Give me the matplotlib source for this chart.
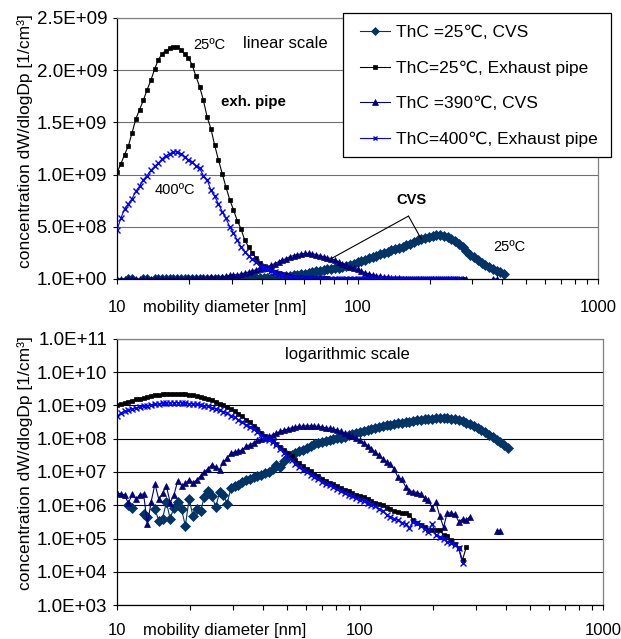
import numpy as np
import matplotlib
matplotlib.use("Agg")
import matplotlib.pyplot as plt
from matplotlib.patches import Rectangle
from matplotlib.ticker import FixedLocator, FuncFormatter, NullFormatter

plt.rcParams['font.family'] = ['Liberation Sans', 'DejaVu Sans']

# SMPS size channels, 64 per decade starting at 10 nm
CH_PER_DECADE = 64
N_CH = 104
dp = 10.0 * 10 ** (np.arange(N_CH) / CH_PER_DECADE)

# log10 of dW/dlogDp [1/cm3] for each channel (None = nothing counted)
lg_cvs_25 = [None, None, None, 6.00, 5.91, None, None, 5.74, 5.66, None,
             5.88, 5.54, 5.60, 6.09, 5.60, 5.93, 6.09, 5.88, 5.38, 6.19,
             5.68, 5.88, 5.82, 6.25, 6.42, 6.29, 5.94, 6.39, 6.32, 6.05,
             6.52, 6.57, 6.62, 6.70, 6.75, 6.79, 6.86, 6.88, 6.92, 6.96,
             6.99, 7.09, 7.20, 7.14, 7.32, 7.45, 7.52, 7.57, 7.62, 7.66,
             7.72, 7.78, 7.83, 7.87, 7.90, 7.93, 7.96, 7.98, 8.01, 8.03,
             8.06, 8.10, 8.13, 8.16, 8.20, 8.23, 8.26, 8.30, 8.33, 8.35,
             8.38, 8.40, 8.42, 8.44, 8.46, 8.47, 8.49, 8.51, 8.53, 8.55,
             8.57, 8.58, 8.59, 8.60, 8.61, 8.62, 8.62, 8.61, 8.60, 8.58,
             8.56, 8.53, 8.48, 8.43, 8.37, 8.32, 8.26, 8.19, 8.12, 8.05,
             7.97, 7.90, 7.81, 7.72]

lg_exh_25 = [9.009, 9.041, 9.076, 9.104, 9.146, 9.185, 9.210, 9.233, 9.258, 9.279,
             9.303, 9.322, 9.334, 9.340, 9.344, 9.346, 9.347, 9.342, 9.334, 9.326,
             9.312, 9.288, 9.265, 9.233, 9.190, 9.158, 9.107, 9.057, 9.004, 8.944,
             8.881, 8.820, 8.748, 8.681, 8.568, 8.491, 8.398, 8.301, 8.176, 8.079,
             8.00, 7.93, 7.85, 7.76, 7.67, 7.57, 7.47, 7.36, 7.26, 7.17,
             7.10, 7.03, 6.95, 6.87, 6.80, 6.74, 6.68, 6.63, 6.58, 6.52,
             6.47, 6.42, 6.37, 6.32, 6.28, 6.24, 6.20, 6.13, 6.08, 6.04,
             6.01, 5.92, 5.89, 5.82, 5.79, 5.78, 5.76, 5.71, 5.56, 5.48,
             5.41, 5.34, 5.27, 5.26, 5.26, 5.25, 5.11, 5.08, 4.95, 4.83,
             4.70, 4.35, 4.75]

lg_cvs_390 = [6.38, 6.34, 6.31, 6.06, 6.34, 6.18, 6.32, 6.34, 5.43, 6.11,
              6.64, 6.18, 6.36, 6.58, 6.08, 6.31, 6.74, 6.59, 6.66, 6.76,
              6.68, 6.76, 6.88, 7.01, 7.10, 7.22, 7.15, 7.07, 7.30, 7.42,
              7.57, 7.60, 7.62, 7.67, 7.77, 7.82, 7.88, 7.95, 7.98, 8.02,
              8.07, 8.12, 8.17, 8.22, 8.26, 8.29, 8.33, 8.35, 8.37, 8.38,
              8.39, 8.39, 8.38, 8.37, 8.35, 8.33, 8.31, 8.29, 8.26, 8.22,
              8.17, 8.12, 8.07, 8.02, 7.96, 7.88, 7.79, 7.70, 7.60, 7.50,
              7.40, 7.31, 7.24, 7.08, 6.84, 6.78, 6.56, 6.44, 6.41, 6.38,
              6.34, 6.21, 6.16, 5.91, 6.09, 5.68, 5.34, 5.78, 5.76, 5.73,
              5.51, 5.58, 5.56, 5.66, None, None, None, None, None, None,
              5.23, 5.23]

lg_exh_400 = [8.672, 8.763, 8.826, 8.857, 8.886, 8.924, 8.949, 8.978, 8.996, 9.017,
              9.033, 9.045, 9.061, 9.072, 9.079, 9.085, 9.086, 9.079, 9.068, 9.057,
              9.049, 9.035, 9.025, 8.996, 8.978, 8.929, 8.898, 8.857, 8.810, 8.763,
              8.699, 8.643, 8.568, 8.491, 8.415, 8.340, 8.280, 8.200, 8.110, 8.030,
              7.97, 7.90, 7.82, 7.70, 7.58, 7.47, 7.37, 7.25, 7.15, 7.07,
              6.99, 6.92, 6.85, 6.78, 6.71, 6.65, 6.60, 6.55, 6.50, 6.44,
              6.38, 6.32, 6.27, 6.22, 6.17, 6.12, 6.08, 6.02, 5.97, 5.90,
              5.84, 5.70, 5.66, 5.60, 5.56, 5.48, 5.45, 5.31, 5.51, 5.46,
              5.38, 5.30, 5.21, 5.44, 5.11, 5.05, 5.00, 4.90, 4.87, 4.80,
              4.70, 4.25]

labels = ["ThC =25\u2103, CVS", "ThC=25\u2103, Exhaust pipe",
          "ThC =390\u2103, CVS", "ThC=400\u2103, Exhaust pipe"]


def to_conc(lg):
    a = np.full(N_CH, np.nan)
    a[:len(lg)] = np.array(lg, dtype=float)
    return 10 ** a


conc = [to_conc(v) for v in (lg_cvs_25, lg_exh_25, lg_cvs_390, lg_exh_400)]
styles = [dict(color='#003366', marker='D', ms=5, mew=0.5),
          dict(color='black', marker='s', ms=3.4, mew=0.5),
          dict(color='#000080', marker='^', ms=4.8, mew=0.5),
          dict(color='#0000FF', marker='x', ms=4, mew=1.0)]

sci = FuncFormatter(lambda v, _: f"{v:.1E}")


def style_axes(ax, grid_color, xpad):
    ax.set_xscale('log')
    ax.set_xlim(10, 1000)
    ax.xaxis.set_major_locator(FixedLocator([10, 100, 1000]))
    ax.xaxis.set_major_formatter(FuncFormatter(lambda v, _: f"{v:.0f}"))
    ax.xaxis.set_minor_locator(FixedLocator([k * 10 ** e for e in (1, 2) for k in range(2, 10)]))
    ax.xaxis.set_minor_formatter(NullFormatter())
    ax.tick_params(axis='x', which='both', direction='out', length=3.5, width=0.8,
                   pad=xpad, labelsize=12)
    ax.tick_params(axis='y', which='major', direction='out', length=3, width=0.8,
                   pad=4, labelsize=13.5)
    ax.tick_params(axis='y', which='minor', length=0)
    ax.yaxis.set_major_formatter(sci)
    ax.yaxis.grid(True, color=grid_color, lw=0.8)
    ax.set_axisbelow(True)
    for s in ('left', 'bottom'):
        ax.spines[s].set_color('black')
        ax.spines[s].set_linewidth(0.9)
    for s in ('top', 'right'):
        ax.spines[s].set_color('#808080')
        ax.spines[s].set_linewidth(0.9)


fig = plt.figure(figsize=(6.21, 6.39), dpi=100)
ax1 = fig.add_axes([0.1884, 0.5634, 0.7746, 0.4085])
ax2 = fig.add_axes([0.1884, 0.0532, 0.7826, 0.4163])

lines = []
for y, st, lab in zip(conc, styles, labels):
    ax1.plot(dp, y, lw=0.8, **st)
    ln, = ax2.plot(dp, y, lw=0.8, label=lab, **st)
    lines.append(ln)

# linear panel
style_axes(ax1, '#707070', 11.5)
ax1.set_ylim(1, 2.5e9)
ax1.yaxis.set_major_locator(FixedLocator([1, 5e8, 1e9, 1.5e9, 2e9, 2.5e9]))

ax1.text(0.158, 0.897, "25ºC", transform=ax1.transAxes, fontsize=10.5, va='center')
ax1.text(0.262, 0.904, "linear scale", transform=ax1.transAxes, fontsize=12, va='center')
ax1.text(0.216, 0.678, "exh. pipe", transform=ax1.transAxes, fontsize=10.8,
         fontweight='bold', va='center')
ax1.text(0.079, 0.341, "400ºC", transform=ax1.transAxes, fontsize=10.5, va='center')
ax1.text(0.782, 0.123, "25ºC", transform=ax1.transAxes, fontsize=10.5, va='center')
ax1.text(0.613, 0.303, "CVS", transform=ax1.transAxes, fontsize=10.5,
         fontweight='bold', ha='center', va='center')
for y, ch in ((conc[2], 57), (conc[0], 81)):
    ax1.annotate("", xy=(dp[ch], y[ch]), xycoords='data',
                 xytext=(0.606, 0.241), textcoords='axes fraction',
                 arrowprops=dict(arrowstyle='-', color='black', lw=0.8,
                                 shrinkA=0, shrinkB=0))

# logarithmic panel
style_axes(ax2, 'black', 9.5)
ax2.set_yscale('log')
ax2.set_ylim(1e3, 1e11)
ax2.yaxis.set_major_locator(FixedLocator([10.0 ** e for e in range(3, 12)]))
ax2.yaxis.set_major_formatter(sci)
ax2.yaxis.set_minor_formatter(NullFormatter())
ax2.tick_params(axis='y', which='minor', length=0)
ax2.text(0.346, 0.94, "logarithmic scale", transform=ax2.transAxes, fontsize=12, va='center')

for ax, lx, ly, ty in ((ax1, -0.175, 0.53, -0.11), (ax2, -0.173, 0.534, -0.095)):
    ax.set_ylabel("concentration dW/dlogDp [1/cm³]", fontsize=12.5)
    ax.yaxis.set_label_coords(lx, ly)
    ax.text(0.054, ty, "mobility diameter [nm]", transform=ax.transAxes,
            fontsize=12, ha='left', va='center')

# legend box, drawn over the upper panel
fig.patches.append(Rectangle((343 / 621, 1 - 157 / 639), 268 / 621, 144 / 639,
                             transform=fig.transFigure, facecolor='white',
                             edgecolor='black', lw=0.9, zorder=4))
fig.legend(lines, labels, loc='upper left', bbox_to_anchor=(0.5797, 0.9609),
           fontsize=12.5, frameon=False, borderpad=0, borderaxespad=0,
           labelspacing=1.17, handlelength=1.72, handletextpad=0.35,
           markerscale=0.8)

fig.savefig('out.png', dpi=100)
